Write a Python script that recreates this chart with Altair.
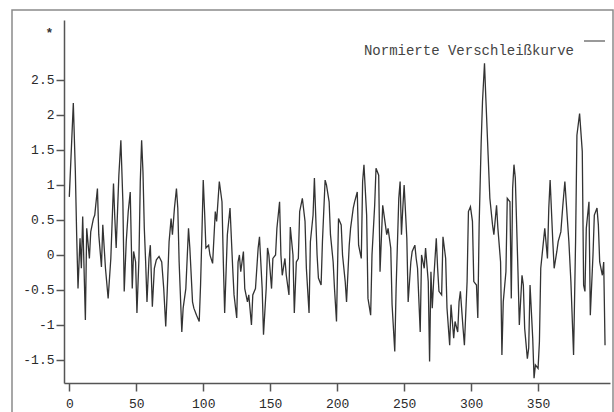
import altair as alt
import pandas as pd

# Series (x position, normalised wear value)
x_vals = [
    0, 3, 4.5, 5.5, 6.5, 8, 9, 10, 12, 13, 15, 16, 18, 19, 21, 22, 24, 25, 27, 29,
    31, 33, 34, 35, 37, 38.5, 40, 41, 42.5, 44, 45.5, 47, 48, 49.5, 50.5, 52, 53, 54, 55, 56,
    57, 58, 59.5, 60.5, 62, 63.5, 65, 67, 69, 70.5, 72, 73, 74.5, 76, 77, 78.5, 80, 81, 82, 84,
    85, 87, 89, 90, 92, 93, 95, 97, 98,
    99, 100, 101, 102, 104, 105, 107, 109, 110, 112, 114, 115, 116, 118, 120, 122, 123, 125, 126, 127,
    128, 130, 131, 133, 134, 136, 137, 139, 141, 142, 144, 145, 147, 148, 149, 151, 152, 154, 155, 157,
    158, 159, 161, 162, 164, 165, 167, 168, 169.5, 171, 172, 174, 176, 177, 179, 180, 182, 183, 185, 186,
    188, 189, 191, 192, 194, 195, 197, 198, 199.5,
    201, 203, 204, 206, 207, 209, 210, 212, 213, 215, 216, 218, 219, 220, 222, 223, 225, 226, 228, 229,
    231, 232, 234, 235, 237, 238, 240, 241, 243, 244, 246, 247, 248, 249, 250, 252, 253, 255, 256, 258,
    259, 260, 262, 263, 265, 266, 268, 269, 270, 271, 272, 274, 275, 276, 278, 279, 281, 282, 284, 285,
    287, 288, 290, 291, 292, 294, 295, 297, 298, 299.5,
    301, 302, 304, 305, 306, 307.5, 308.5, 310, 311, 312.7, 314, 316, 317, 319, 320, 322, 323, 324, 326, 327,
    329, 330, 331, 332, 333, 335, 336, 338, 339, 340, 342, 343, 344, 346, 347, 348, 350, 351, 352, 354,
    355, 357, 358, 359, 361, 362, 364, 365, 367, 368.5, 370, 371, 373, 374.5, 376.5, 378, 379, 381, 383, 384,
    385, 386, 388, 389, 391, 392, 394, 395, 396, 398, 399, 400,
]
y_vals = [
    0.83, 2.17, 1.2, 0.29, -0.48, 0.24, -0.19, 0.55, -0.93, 0.38, -0.05, 0.33, 0.52, 0.57, 0.95, 0.29, -0.17, 0.43, -0.19, -0.62,
    -0.05, 1.02, 0.52, 0.1, 1.14, 1.64, 0.76, -0.52, 0.19, 0.62, 0.9, -0.48, 0.05, -0.1, -0.83, -0.05, 1.05, 1.64, 1.19, 0.38,
    -0.1, -0.67, -0.05, 0.14, -0.74, -0.19, -0.07, -0.02, -0.1, -0.48, -1.02, -0.57, 0.19, 0.52, 0.29, 0.67, 0.95, 0.67, -0.1, -1.1,
    -0.76, -0.48, 0.38, 0.1, -0.67, -0.76, -0.86, -0.95, -0.43,
    0.29, 1.07, 0.62, 0.1, 0.14, 0.0, -0.12, 0.62, 0.48, 1.05, 0.76, -0.1, -0.83, 0.29, 0.67, -0.19, -0.57, -0.9, -0.1, 0.0,
    -0.24, 0.05, -0.48, -0.67, -0.57, -1.0, -0.57, -0.48, 0.1, 0.26, -0.48, -1.14, -0.48, 0.1, 0.0, -0.48, -0.05, 0.0, 0.38, 0.76,
    0.0, -0.29, -0.05, -0.29, -0.57, 0.4, 0.0, -0.83, -0.1, -0.05, 0.62, 0.81, 0.48, -0.19, -0.83, 0.19, 0.57, 1.1, 0.0, -0.33,
    -0.43, 0.19, 1.07, 1.0, 0.76, 0.29, -0.1, -0.48, -0.95,
    0.52, 0.43, 0.0, -0.38, -0.67, 0.14, 0.38, 0.67, 0.76, 0.9, 0.14, -0.05, 1.05, 1.29, 0.57, -0.62, -0.86, 0.0, 0.71, 1.24,
    1.14, -0.24, 0.71, 0.57, 0.29, 0.38, 0.1, -0.71, -1.38, -0.48, 0.81, 1.05, 0.29, 0.67, 1.0, 0.24, -0.67, -0.1, 0.05, 0.14,
    -0.05, -0.19, -1.1, 0.0, -0.19, 0.1, -0.38, -1.52, -0.24, -0.76, -0.38, 0.24, -0.19, -0.52, -0.57, 0.26, -0.05, -0.76, -1.29, -0.71,
    -1.19, -0.95, -1.1, -0.67, -0.52, -1.05, -1.29, -0.38, 0.62, 0.69,
    0.48, -0.38, -0.43, -0.9, 0.43, 1.6, 2.19, 2.74, 2.24, 1.43, 0.81, 0.43, 0.29, 0.71, 0.38, -0.1, -1.43, -0.67, -0.24, 0.81,
    0.76, -0.62, 0.95, 1.29, 1.1, -0.24, -1.0, -0.29, -0.43, -1.05, -1.48, -1.33, -0.43, -1.19, -1.76, -1.57, -1.62, -1.24, -0.19, 0.19,
    0.38, -0.05, 0.67, 1.07, 0.19, -0.19, 0.05, 0.19, 0.33, 0.71, 1.05, 0.76, 0.19, -0.38, -1.43, 0.19, 1.71, 2.02, 1.48, -0.43,
    -0.52, 0.38, 0.76, -0.86, 0.0, 0.57, 0.67, 0.43, -0.1, -0.29, -0.1, -1.29,
]

x_ticks = [0, 50, 100, 150, 200, 250, 300, 350]
y_ticks = [-1.5, -1, -0.5, 0, 0.5, 1, 1.5, 2, 2.5]
legend_label = ["Normierte Verschleißkurve"]
y_title = "*"

df = pd.DataFrame({"x": x_vals, "y": y_vals})
one = pd.DataFrame({"label": legend_label})

FONT = "Liberation Mono"
AXC = "#555555"

line = alt.Chart(df).mark_line(color="#333333", strokeWidth=1.3, interpolate="linear").encode(
    x=alt.X("x:Q", scale=alt.Scale(domain=[-3.96, 403.7], nice=False, zero=False),
            axis=alt.Axis(values=x_ticks, title=None, grid=False, labelExpr="toString(datum.value)",
                          tickSize=8, labelPadding=6, domainWidth=1.5, tickWidth=1.5)),
    y=alt.Y("y:Q", scale=alt.Scale(domain=[-1.829, 3.357], nice=False, zero=False),
            axis=alt.Axis(values=y_ticks, title=y_title, titleAngle=0, titleX=-15, titleY=16,
                          titleAlign="center", titleBaseline="alphabetic", titleFontSize=13,
                          titleFont=FONT, titleFontWeight="bold", titleColor="#333333",
                          grid=False, labelExpr="toString(datum.value)",
                          tickSize=8, labelPadding=2, domainWidth=1.5, tickWidth=1.5)),
)

frame = alt.Chart(pd.DataFrame({"a": [0]})).mark_rect(
    fill=None, stroke="#8a8a8a", strokeWidth=1.5
).encode(x=alt.value(-52), x2=alt.value(549), y=alt.value(-10), y2=alt.value(430))

leg_text = alt.Chart(one).mark_text(
    align="right", baseline="alphabetic", font=FONT, fontSize=14, color="#444444"
).encode(text="label:N", x=alt.value(510), y=alt.value(35))

leg_line = alt.Chart(pd.DataFrame({"a": [0]})).mark_rule(color="#555555", strokeWidth=1.2).encode(
    x=alt.value(520), x2=alt.value(541), y=alt.value(21)
)

chart = alt.layer(frame, line, leg_text, leg_line).properties(
    width=546, height=363,
    autosize=alt.AutoSizeParams(type="none"),
    padding={"left": 64, "top": 20, "right": 4, "bottom": 29},
).configure_view(stroke=None).configure_axis(
    labelFont=FONT, labelFontSize=13, labelColor="#2a2a2a",
    domainColor=AXC, tickColor=AXC,
)

chart.save("out.html", embed_options={"renderer": "svg", "actions": False})
